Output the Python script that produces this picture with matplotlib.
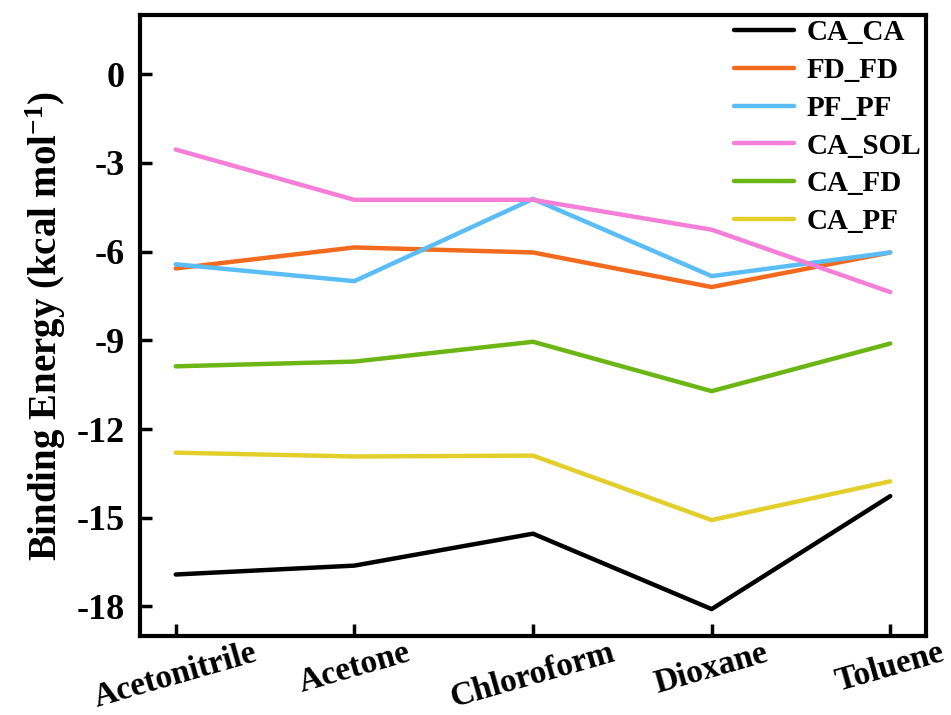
import matplotlib
matplotlib.use("Agg")
import matplotlib.pyplot as plt
from matplotlib.transforms import ScaledTranslation

solvents = ["Acetonitrile", "Acetone", "Chloroform", "Dioxane", "Toluene"]

ca_ca = [-16.92, -16.62, -15.54, -18.09, -14.27]
fd_fd = [-6.57, -5.86, -6.03, -7.20, -6.03]
pf_pf = [-6.43, -7.00, -4.22, -6.83, -6.03]
ca_sol = [-2.55, -4.25, -4.25, -5.26, -7.37]
ca_fd = [-9.88, -9.72, -9.05, -10.72, -9.11]
ca_pf = [-12.80, -12.93, -12.90, -15.08, -13.77]

series = [
    ("CA_CA", ca_ca, "#000000"),
    ("FD_FD", fd_fd, "#F26A1E"),
    ("PF_PF", pf_pf, "#5BBDF5"),
    ("CA_SOL", ca_sol, "#F57ED8"),
    ("CA_FD", ca_fd, "#6BB614"),
    ("CA_PF", ca_pf, "#E3CF2C"),
]

plt.rcParams["font.family"] = ["Liberation Serif", "DejaVu Serif"]
plt.rcParams["font.weight"] = "bold"
plt.rcParams["mathtext.fontset"] = "custom"
plt.rcParams["mathtext.rm"] = "Liberation Serif:bold"
plt.rcParams["mathtext.bf"] = "Liberation Serif:bold"
plt.rcParams["mathtext.default"] = "bf"

fig = plt.figure(figsize=(9.51, 7.15), dpi=100)
ax = fig.add_axes([140 / 951, 1 - 636 / 715, (926 - 140) / 951, (636 - 15) / 715])

x = list(range(len(solvents)))
for name, vals, color in series:
    ax.plot(x, vals, color=color, lw=3.2, label=name, solid_capstyle="round")

ax.set_xlim(-0.2, 4.2)
ax.set_ylim(-19, 2)
ax.set_yticks([0, -3, -6, -9, -12, -15, -18])
ax.set_yticklabels(["0", "-3", "-6", "-9", "-12", "-15", "-18"], fontsize=26, fontweight="bold")
ax.set_xticks(x)
ax.set_xticklabels(solvents, rotation=16, ha="center", fontsize=24, fontweight="bold")
shift = ScaledTranslation(-0.15, 0.02, fig.dpi_scale_trans)
for lbl in ax.get_xticklabels():
    lbl.set_transform(lbl.get_transform() + shift)

ax.tick_params(axis="both", direction="in", length=8.5, width=2.5)
ax.tick_params(axis="y", pad=11)
ax.tick_params(axis="x", pad=1)
for sp in ax.spines.values():
    sp.set_linewidth(3.0)

ax.set_ylabel("Binding Energy (kcal mol$^{-1}$)", fontsize=28, fontweight="bold", labelpad=6)

leg = ax.legend(loc="upper right", frameon=False, fontsize=21, handlelength=2.05,
                handletextpad=0.45, labelspacing=0.37, borderaxespad=0.0,
                bbox_to_anchor=(1.009, 1.012))
for t in leg.get_texts():
    t.set_fontweight("bold")

fig.savefig("out.png", dpi=100)
